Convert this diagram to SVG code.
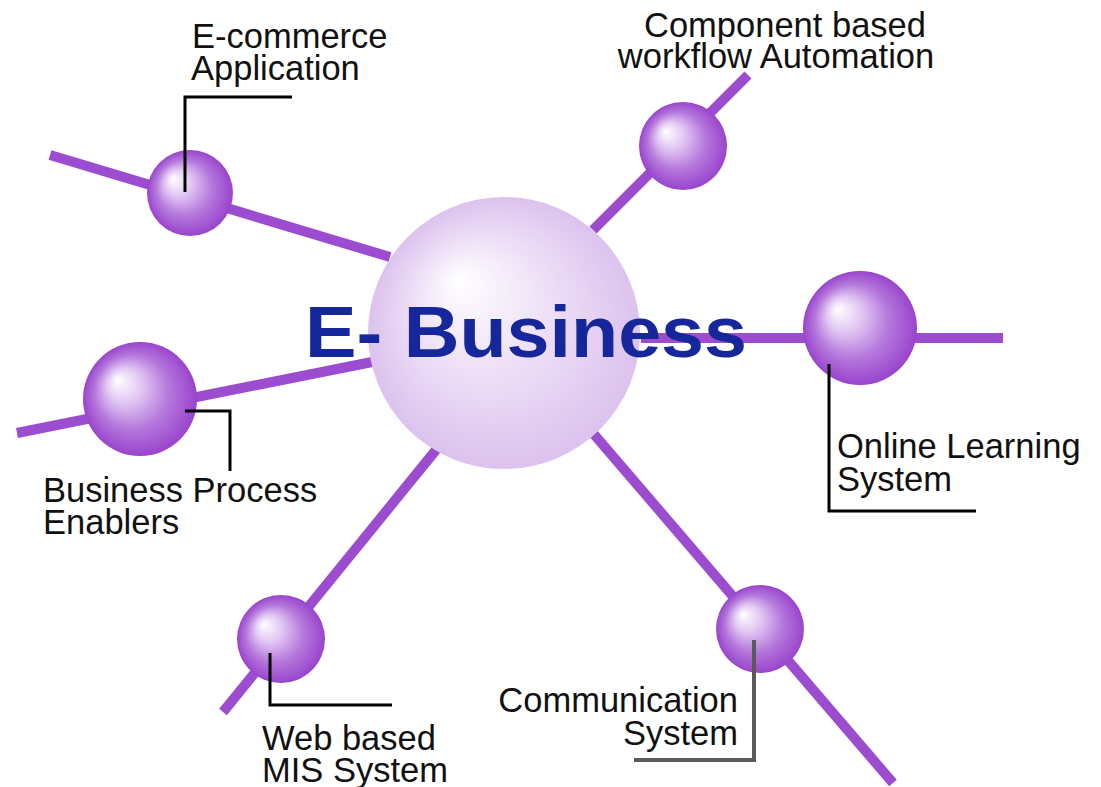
<svg xmlns="http://www.w3.org/2000/svg" width="1101" height="787" viewBox="0 0 1101 787">
<defs>
<radialGradient id="small" cx="0.5" cy="0.5" r="0.5" fx="0.3" fy="0.33">
<stop offset="0" stop-color="#ffffff"/>
<stop offset="0.3" stop-color="#e2c8f3"/>
<stop offset="0.65" stop-color="#b578dc"/>
<stop offset="1" stop-color="#9944cc"/>
</radialGradient>
<radialGradient id="big" cx="0.5" cy="0.5" r="0.5" fx="0.33" fy="0.3">
<stop offset="0" stop-color="#ffffff"/>
<stop offset="0.5" stop-color="#eedff7"/>
<stop offset="1" stop-color="#dcc2ee"/>
</radialGradient>
</defs>
<style>
.c{stroke:#9b4ccf;stroke-width:10;stroke-linecap:butt;fill:none}
.l{stroke:#000;stroke-width:3;fill:none}
.t{font-family:"Liberation Sans",Arial,sans-serif;font-size:34.5px;fill:#111}
.s{fill:url(#small)}
</style>
<rect width="1101" height="787" fill="#fff"/>
<g id="connectors">
<line class="c" x1="50" y1="155" x2="390" y2="257"/>
<line class="c" x1="593" y1="230" x2="748" y2="75"/>
<line class="c" x1="17" y1="433" x2="372" y2="362"/>
<line class="c" x1="223" y1="712" x2="440" y2="445"/>
<line class="c" x1="592" y1="432" x2="893" y2="783"/>
</g>
<g id="ebusiness">
<circle cx="504" cy="333" r="136" fill="url(#big)"/>
</g>
<g id="online-connector"><line class="c" x1="641" y1="338" x2="1003" y2="338"/></g>
<g id="ebusiness-label">
<text x="305" y="357" font-family="'Liberation Sans',Arial,sans-serif" font-weight="bold" font-size="72" fill="#16279b" textLength="442" lengthAdjust="spacingAndGlyphs">E- Business</text>
</g>
<g id="ecommerce">
<circle class="s" cx="190" cy="193" r="43"/>
<polyline class="l" points="185,192 185,97 292,97"/>
<text class="t" x="192" y="48">E-commerce</text>
<text class="t" x="191" y="80">Application</text>
</g>
<g id="component">
<circle class="s" cx="683" cy="146" r="44"/>
<text class="t" x="785" y="37" text-anchor="middle">Component based</text>
<text class="t" x="776" y="68" text-anchor="middle">workflow Automation</text>
</g>
<g id="online">
<circle class="s" cx="860" cy="328" r="57"/>
<polyline class="l" points="829,364 829,511 976,511"/>
<text class="t" x="837" y="458">Online Learning</text>
<text class="t" x="837" y="491">System</text>
</g>
<g id="bpe">
<circle class="s" cx="140" cy="399" r="57"/>
<polyline class="l" points="185,411 230,411 230,471"/>
<text class="t" x="43" y="502">Business Process</text>
<text class="t" x="43" y="534">Enablers</text>
</g>
<g id="web">
<circle class="s" cx="281" cy="639" r="44"/>
<polyline class="l" points="270,653 270,705 392,705"/>
<text class="t" x="262" y="750">Web based</text>
<text class="t" x="262" y="782">MIS System</text>
</g>
<g id="communication">
<circle class="s" cx="760" cy="629" r="44"/>
<polyline points="754,640 754,760 634,760" fill="none" stroke="#5a5a5a" stroke-width="4"/>
<text class="t" x="738" y="712" text-anchor="end">Communication</text>
<text class="t" x="738" y="745" text-anchor="end">System</text>
</g>
</svg>
